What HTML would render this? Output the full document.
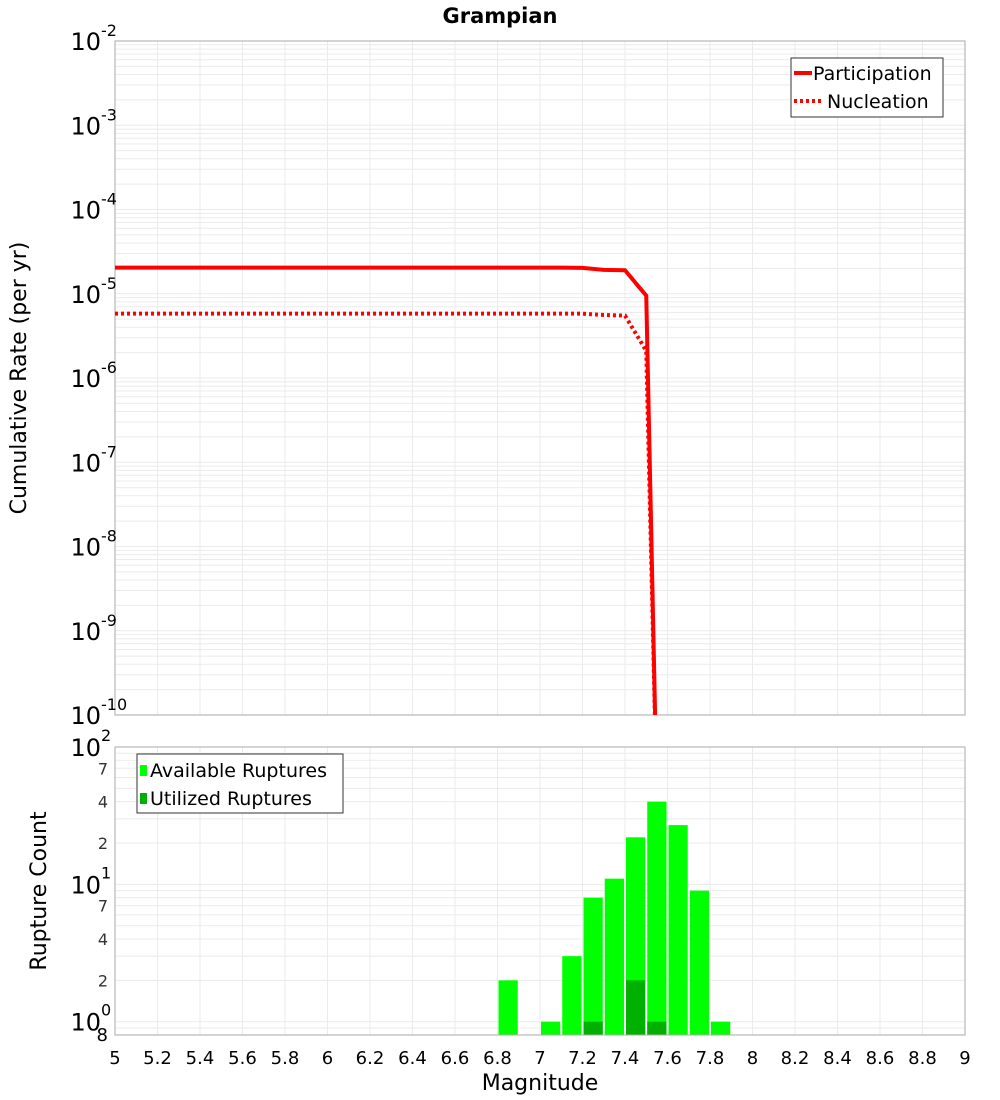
<!DOCTYPE html>
<html><head><meta charset="utf-8"><style>
html,body{margin:0;padding:0;background:#fff;}
svg{display:block;font-family:"DejaVu Sans","Liberation Sans",sans-serif;}
</style></head><body>
<svg id="chart" width="1000" height="1100" viewBox="0 0 1000 1100" xmlns="http://www.w3.org/2000/svg">
<text x="500" y="23" text-anchor="middle" font-size="21" font-weight="bold">Grampian</text>
<g id="topPlot"></g>
<g id="botPlot"></g>
<text transform="translate(26,378) rotate(-90)" text-anchor="middle" font-size="22">Cumulative Rate (per yr)</text>
<text transform="translate(46,891) rotate(-90)" text-anchor="middle" font-size="22">Rupture Count</text>
<text x="540" y="1090" text-anchor="middle" font-size="22">Magnitude</text>
</svg>
<script>
const xTicks=[5,5.2,5.4,5.6,5.8,6,6.2,6.4,6.6,6.8,7,7.2,7.4,7.6,7.8,8,8.2,8.4,8.6,8.8,9];
const partMags=[5.0,5.1,5.2,5.3,5.4,5.5,5.6,5.7,5.8,5.9,6.0,6.1,6.2,6.3,6.4,6.5,6.6,6.7,6.8,6.9,7.0,7.1,7.2,7.3,7.4,7.5,7.55];
const partRates=[2.04e-5,2.04e-5,2.04e-5,2.04e-5,2.04e-5,2.04e-5,2.04e-5,2.04e-5,2.04e-5,2.04e-5,2.04e-5,2.04e-5,2.04e-5,2.04e-5,2.04e-5,2.04e-5,2.04e-5,2.04e-5,2.04e-5,2.04e-5,2.04e-5,2.04e-5,2.03e-5,1.92e-5,1.9e-5,9.5e-6,1e-11];
const nuclRates=[5.8e-6,5.8e-6,5.8e-6,5.8e-6,5.8e-6,5.8e-6,5.8e-6,5.8e-6,5.8e-6,5.8e-6,5.8e-6,5.8e-6,5.8e-6,5.8e-6,5.8e-6,5.8e-6,5.8e-6,5.8e-6,5.8e-6,5.8e-6,5.8e-6,5.8e-6,5.8e-6,5.6e-6,5.5e-6,2.1e-6,1e-11];
const binMags=[6.85,7.05,7.15,7.25,7.35,7.45,7.55,7.65,7.75,7.85];
const availCounts=[2,1,3,8,11,22,40,27,9,1];
const usedMags=[7.25,7.45,7.55];
const usedCounts=[1,2,1];
const topExps=[-2,-3,-4,-5,-6,-7,-8,-9,-10];
const botMinor=[2,4,7,20,40,70];

const NS="http://www.w3.org/2000/svg";
function mk(tag,attrs,parent,name,txt){const e=document.createElementNS(NS,tag);for(const k in attrs)e.setAttribute(k,attrs[k]);


if(txt!==undefined)e.textContent=txt;parent.appendChild(e);return e;}
const PL=115,PR=965;
const xs=m=>PL+(m-5)/4*(PR-PL);
const T0=41,T1=715;
const ty=v=>T0+(-2-Math.log10(v))/8*(T1-T0);
const B0=747,B1=1035;
const by=v=>B0+(2-Math.log10(v))/(2-Math.log10(0.8))*(B1-B0);
const topG=document.getElementById('topPlot'),botG=document.getElementById('botPlot');
for(let e=-10;e<-2;e++)for(let k=1;k<10;k++){const y=ty(k*Math.pow(10,e));mk('line',{x1:PL,x2:PR,y1:y,y2:y,stroke:'#ebebeb','stroke-width':1},topG,'grid-line-h');}
for(const t of xTicks){mk('line',{x1:xs(t),x2:xs(t),y1:T0,y2:T1,stroke:'#ebebeb'},topG,'grid-line-v');mk('line',{x1:xs(t),x2:xs(t),y1:B0,y2:B1,stroke:'#ebebeb'},botG,'grid-line-v');}
mk('rect',{x:PL,y:T0,width:PR-PL,height:T1-T0,fill:'none',stroke:'#aaa'},topG,'plot-frame');
for(const e of topExps){const y=ty(Math.pow(10,e));mk('text',{x:101,y:y+9,'text-anchor':'end','font-size':24},topG,'y-tick-label','10');
mk('text',{x:101,y:y-5,'font-size':16},topG,'y-tick-exponent',String(e));}
const cp=mk('clipPath',{id:'tc'},topG,'clip');mk('rect',{x:PL,y:T0,width:PR-PL,height:T1-T0},cp,'clip-rect');
function pts(a){return partMags.map((m,i)=>xs(m)+','+ty(a[i])).join(' ');}
mk('polyline',{points:pts(partRates),fill:'none',stroke:'#f00','stroke-width':4,'clip-path':'url(#tc)'},topG,'participation-line');
mk('polyline',{points:pts(nuclRates),fill:'none',stroke:'#f00','stroke-width':4,'stroke-dasharray':'3,3','clip-path':'url(#tc)'},topG,'nucleation-line');
mk('rect',{x:791,y:58,width:152,height:59,fill:'#fff',stroke:'#333'},topG,'legend-box');
mk('line',{x1:794,x2:812,y1:73,y2:73,stroke:'#f00','stroke-width':4},topG,'legend-participation-swatch');
mk('text',{x:813,y:80,'font-size':19},topG,'legend-participation','Participation');
mk('line',{x1:794,x2:822,y1:101,y2:101,stroke:'#f00','stroke-width':4,'stroke-dasharray':'3,3'},topG,'legend-nucleation-swatch');
mk('text',{x:827,y:108,'font-size':19},topG,'legend-nucleation','Nucleation');
for(let e=-1;e<2;e++)for(let k=1;k<10;k++){const v=k*Math.pow(10,e);if(v<0.8)continue;const y=by(v);mk('line',{x1:PL,x2:PR,y1:y,y2:y,stroke:'#ebebeb'},botG,'grid-line-h');}
const bw=(PR-PL)/40;
binMags.forEach((m,i)=>{const y=by(availCounts[i]);mk('rect',{x:xs(m)-bw/2+1,y:y,width:bw-2,height:B1-y,fill:'#00ff00'},botG,'bar-available');});
usedMags.forEach((m,i)=>{const y=by(usedCounts[i]);mk('rect',{x:xs(m)-bw/2+1,y:y,width:bw-2,height:B1-y,fill:'#00b000'},botG,'bar-utilized');});
mk('rect',{x:PL,y:B0,width:PR-PL,height:B1-B0,fill:'none',stroke:'#aaa'},botG,'plot-frame');
[[2,'2'],[1,'1'],[0,'0']].forEach(([e,s])=>{const y=by(Math.pow(10,e));mk('text',{x:101,y:y+9,'text-anchor':'end','font-size':24},botG,'y-tick-label','10');mk('text',{x:101,y:y-6,'font-size':16},botG,'y-tick-exponent',s);});
for(const v of botMinor){mk('text',{x:108,y:by(v)+6,'text-anchor':'end','font-size':16,fill:'#333'},botG,'y-minor-label',String(v>=10?v/10:v));}
mk('text',{x:108,y:by(0.8)+6,'text-anchor':'end','font-size':18},botG,'y-minor-label','8');
for(const t of xTicks){mk('text',{x:xs(t),y:1064,'text-anchor':'middle','font-size':18},botG,'x-tick-label',String(t));}
mk('rect',{x:137,y:754,width:206,height:59,fill:'#fff',stroke:'#333'},botG,'legend-box');
mk('rect',{x:140,y:765,width:7,height:11,fill:'#00ff00'},botG,'legend-available-swatch');
mk('text',{x:150,y:777,'font-size':19},botG,'legend-available','Available Ruptures');
mk('rect',{x:140,y:793,width:7,height:11,fill:'#00b000'},botG,'legend-utilized-swatch');
mk('text',{x:150,y:805,'font-size':19},botG,'legend-utilized','Utilized Ruptures');
</script>
</body></html>
